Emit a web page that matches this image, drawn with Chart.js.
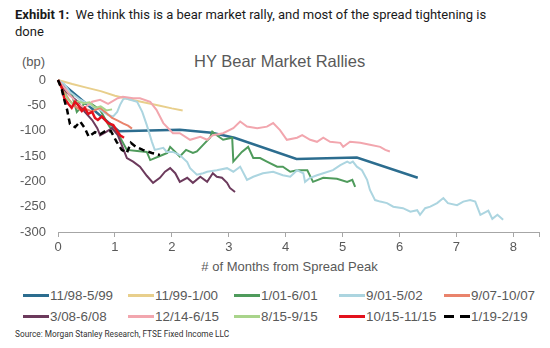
<!DOCTYPE html>
<html>
<head>
<meta charset="utf-8">
<script src="https://cdn.jsdelivr.net/npm/chart.js@4.4.1/dist/chart.umd.min.js"></script>
<style>
  body { margin: 0; width: 550px; height: 348px; background: #fff; position: relative; overflow: hidden;
         font-family: 'Liberation Sans', Arial, sans-serif; color: #595959; }
  .abs { position: absolute; white-space: nowrap; }
  #header { left: 15px; top: 6px; font-family: Roboto, sans-serif; font-size: 13px; line-height: 17px; color: #1a1a1a; }
  #title { left: 194px; top: 53px; font-size: 16.5px; line-height: 16.5px; }
  #unit { left: 22px; top: 55px; font-size: 13px; line-height: 13px; }
  #xtitle { left: 0; width: 579px; text-align: center; top: 260px; font-size: 13px; line-height: 13px; }
  #source { left: 15px; top: 330px; font-family: Roboto, sans-serif; font-size: 8.3px; line-height: 9px; color: #333; }
  .item { position: absolute; font-size: 13.4px; line-height: 13px; white-space: nowrap; }
  .swatch { position: absolute; left: 0; width: 26px; top: 5px; height: 0; border-top: 3px solid; }
  .item span.lbl { position: absolute; left: 27px; top: 0; }
  #chart { position: absolute; left: 0; top: 0; }
</style>
</head>
<body>
<div id="header" class="abs"><b>Exhibit 1:</b>&nbsp; We think this is a bear market rally, and most of the spread tightening is<br>done</div>
<div id="title" class="abs">HY Bear Market Rallies</div>
<div id="unit" class="abs">(bp)</div>
<canvas id="chart" width="550" height="258"></canvas>
<div id="xtitle" class="abs"># of Months from Spread Peak</div>
<div id="legend"></div>
<div id="source" class="abs">Source: Morgan Stanley Research, FTSE Fixed Income LLC</div>

<script>
// rally windows, in legend order
const periods = ['11/98-5/99', '11/99-1/00', '1/01-6/01', '9/01-5/02', '9/07-10/07',
  '3/08-6/08', '12/14-6/15', '8/15-9/15', '10/15-11/15', '1/19-2/19'];

// [months from spread peak, change in spread (bp)]
const r9899 = [[0, 0], [1.07, -101], [2.14, -98], [2.7, -104], [3.1, -114], [4.19, -156], [5.25, -153], [6.32, -193]];
const r9900 = [[0, 0], [0.25, -8], [0.5, -15], [0.75, -22], [1.0, -31], [1.25, -38], [1.5, -44], [1.75, -50], [2.0, -56], [2.19, -60]];
const r01 = [[0, 0], [0.14, -24], [0.25, -30], [0.33, -63], [0.46, -47], [0.56, -45], [0.74, -59], [0.91, -93], [1.05, -105],
  [1.21, -138], [1.39, -140], [1.56, -142], [1.62, -158], [1.79, -150], [1.92, -144], [1.97, -132], [2.14, -151], [2.25, -138],
  [2.37, -144], [2.44, -141], [2.55, -128], [2.67, -114], [2.71, -102], [2.79, -109], [2.9, -118], [3.06, -114], [3.08, -161],
  [3.23, -142], [3.34, -132], [3.43, -154], [3.55, -154], [3.67, -161], [3.85, -171], [3.95, -171], [4.08, -181], [4.2, -178],
  [4.38, -178], [4.48, -201], [4.66, -193], [4.9, -195], [5.08, -201], [5.17, -197], [5.22, -211]];
const r0102 = [[0, 0], [0.11, -8], [0.21, -24], [0.39, -39], [0.56, -49], [0.74, -59], [0.88, -69], [0.97, -72], [1.04, -63],
  [1.09, -49], [1.14, -39], [1.18, -36], [1.27, -39], [1.39, -43], [1.48, -63], [1.56, -89], [1.65, -122], [1.7, -138],
  [1.85, -134], [1.91, -142], [2.02, -142], [2.14, -148], [2.27, -162], [2.32, -174], [2.44, -187], [2.55, -184], [2.62, -181],
  [2.79, -178], [2.97, -174], [3.08, -181], [3.2, -171], [3.32, -197], [3.43, -191], [3.6, -184], [3.78, -181], [3.95, -188],
  [4.08, -191], [4.2, -178], [4.31, -184], [4.34, -201], [4.43, -193], [4.55, -188], [4.66, -184], [4.83, -178], [4.96, -168],
  [5.08, -161], [5.13, -164], [5.18, -161], [5.25, -171], [5.34, -178], [5.43, -197], [5.48, -217], [5.57, -237], [5.66, -240],
  [5.78, -243], [5.89, -250], [6.06, -253], [6.19, -260], [6.31, -257], [6.36, -266], [6.45, -253], [6.54, -250], [6.66, -243],
  [6.77, -233], [6.85, -243], [7.01, -247], [7.12, -240], [7.24, -237], [7.33, -240], [7.42, -266], [7.56, -258], [7.63, -274],
  [7.72, -266], [7.82, -276]];
const r07 = [[0, 0], [0.1, -22], [0.2, -40], [0.3, -52], [0.4, -60], [0.5, -58], [0.6, -62], [0.74, -55], [0.85, -65],
  [0.95, -75], [1.05, -80], [1.15, -86], [1.23, -90], [1.3, -96]];
const r08 = [[0, 0], [0.09, -16], [0.21, -30], [0.35, -43], [0.47, -63], [0.6, -79], [0.69, -95], [0.74, -109], [0.84, -103],
  [0.95, -95], [1.05, -109], [1.14, -134], [1.21, -154], [1.32, -161], [1.44, -171], [1.56, -189], [1.67, -203], [1.79, -193],
  [1.88, -181], [1.97, -174], [2.06, -184], [2.14, -201], [2.27, -193], [2.37, -203], [2.5, -191], [2.62, -201], [2.72, -184],
  [2.79, -191], [2.88, -193], [2.97, -203], [3.02, -213], [3.11, -221]];
const r1415 = [[0, 0], [0.09, -12], [0.21, -30], [0.35, -47], [0.47, -55], [0.6, -43], [0.74, -39], [0.88, -47], [1.05, -36],
  [1.14, -33], [1.32, -36], [1.44, -36], [1.62, -43], [1.73, -59], [1.85, -85], [2.02, -105], [2.14, -105], [2.32, -118],
  [2.5, -112], [2.62, -118], [2.72, -109], [2.9, -105], [3.08, -95], [3.2, -82], [3.32, -92], [3.5, -95], [3.67, -92],
  [3.78, -85], [3.9, -99], [4.02, -118], [4.2, -114], [4.29, -109], [4.43, -118], [4.55, -122], [4.66, -114], [4.78, -122],
  [4.96, -124], [5.01, -132], [5.13, -122], [5.31, -124], [5.48, -128], [5.66, -132], [5.75, -138], [5.83, -141]];
const r15a = [[0, 0], [0.08, -20], [0.17, -38], [0.26, -48], [0.35, -42], [0.45, -46], [0.55, -44], [0.65, -55],
  [0.75, -52], [0.85, -60], [0.95, -58]];
const r15b = [[0, 0], [0.07, -16], [0.11, -36], [0.18, -47], [0.24, -55], [0.3, -43], [0.35, -49], [0.42, -61], [0.47, -55],
  [0.53, -67], [0.6, -63], [0.65, -75], [0.7, -79], [0.77, -72], [0.88, -85], [0.97, -89], [1.04, -101], [1.09, -109], [1.16, -114]];
const r19 = [[0, 0], [0.07, -20], [0.11, -39], [0.16, -59], [0.21, -87], [0.3, -93], [0.39, -82], [0.47, -95], [0.54, -112],
  [0.65, -103], [0.74, -107], [0.83, -101], [0.93, -101], [1.03, -122], [1.12, -138], [1.21, -144], [1.28, -124], [1.37, -132],
  [1.49, -138], [1.65, -144], [1.79, -148]];

const series = [r9899, r9900, r01, r0102, r07, r08, r1415, r15a, r15b, r19];
const xTicks = [0, 1, 2, 3, 4, 5, 6, 7, 8];

const colors = ['#2c6d8f', '#e8cf8c', '#4f9b5c', '#acd5e0', '#e9836c', '#6c3a5c', '#f2a6ae', '#a9d48b', '#e3111c', '#000000'];
const widths = [2.5, 2, 2, 2, 2, 2, 2, 2, 2.5, 2.5];

const datasets = series.map((pts, i) => ({
  label: periods[i],
  data: pts.map(p => ({ x: p[0], y: p[1] })),
  borderColor: colors[i],
  backgroundColor: colors[i],
  borderWidth: widths[i],
  borderDash: i === 9 ? [6, 4] : [],
  pointRadius: 0,
  tension: 0,
  clip: false,
  order: -i
}));

const axisGrey = '#a6a6a6';
const tickFont = { family: "'Liberation Sans', Arial, sans-serif", size: 13 };

new Chart(document.getElementById('chart'), {
  type: 'line',
  data: { datasets },
  options: {
    responsive: false,
    animation: false,
    layout: { padding: { top: 80, right: 11, left: 0, bottom: 0 } },
    plugins: { legend: { display: false }, tooltip: { enabled: false } },
    scales: {
      x: {
        type: 'linear',
        min: 0,
        max: 8.45,
        afterBuildTicks: scale => { scale.ticks = xTicks.concat([8.45]).map(v => ({ value: v })); },
        afterFit: scale => { scale.height = 26; },
        ticks: {
          color: '#595959',
          font: tickFont,
          padding: 3,
          maxRotation: 0,
          autoSkip: false,
          callback: v => (Number.isInteger(v) ? String(v) : '')
        },
        grid: { drawOnChartArea: false, drawTicks: true, tickLength: 5, color: axisGrey },
        border: { display: true, color: axisGrey, width: 1 }
      },
      y: {
        min: -300,
        max: 0,
        afterFit: scale => { scale.width = 58; },
        ticks: { stepSize: 50, color: '#595959', font: tickFont, padding: 12 },
        grid: { display: false, drawTicks: false },
        border: { display: false }
      }
    }
  }
});

// two-row legend, five entries per row
const legend = document.getElementById('legend');
const colX = [23, 128, 234, 339, 444];
const rowY = [289, 310];
periods.forEach((name, i) => {
  const item = document.createElement('div');
  item.className = 'item';
  item.style.left = colX[i % 5] + 'px';
  item.style.top = rowY[Math.floor(i / 5)] + 'px';
  const sw = document.createElement('div');
  sw.className = 'swatch';
  sw.style.borderTopColor = colors[i];
  if (i === 9) {
    sw.style.borderTop = 'none';
    sw.style.height = '3px';
    sw.style.top = '5px';
    sw.style.background = 'repeating-linear-gradient(90deg, #000 0 10px, transparent 10px 16px)';
  }
  const lbl = document.createElement('span');
  lbl.className = 'lbl';
  lbl.textContent = name;
  item.appendChild(sw);
  item.appendChild(lbl);
  legend.appendChild(item);
});
</script>
</body>
</html>
